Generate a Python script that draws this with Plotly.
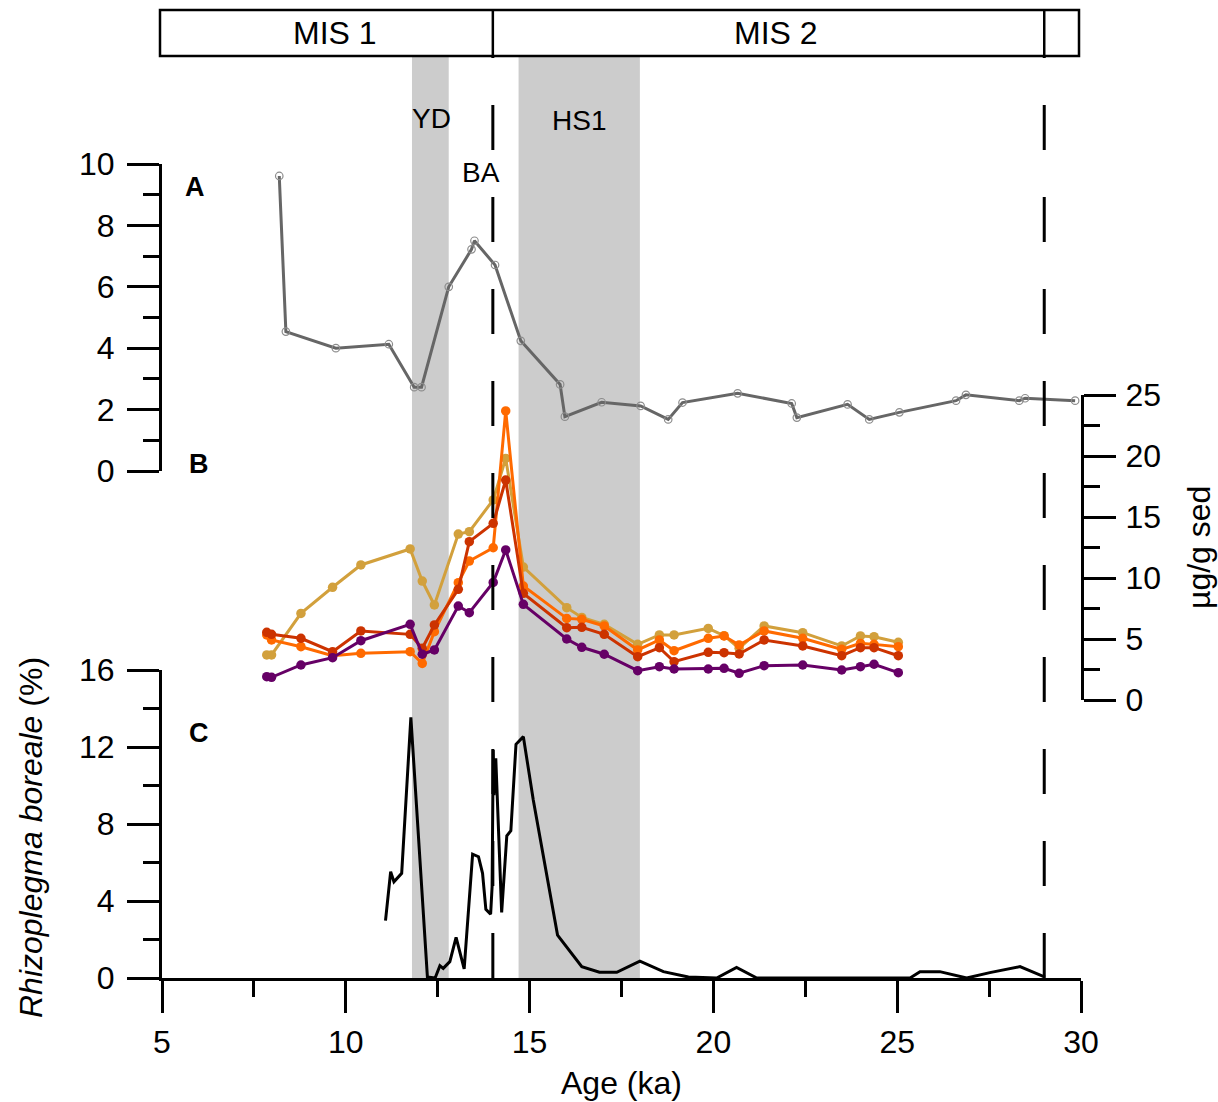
import plotly.graph_objects as go

# ---------------- data ----------------
# Panel A (left axis, 0-10)
age_a = [8.19, 8.37, 9.73, 11.17, 11.86, 12.06, 12.80, 13.42, 13.50, 14.06, 14.76, 15.83, 15.96,
         16.96, 18.02, 18.77, 19.16, 20.66, 22.13, 22.27, 23.65, 24.24, 25.06, 26.60, 26.87,
         28.32, 28.48, 29.84]
val_a = [9.61, 4.54, 4.00, 4.13, 2.73, 2.73, 6.00, 7.22, 7.50, 6.71, 4.24, 2.82, 1.77,
         2.24, 2.12, 1.68, 2.23, 2.53, 2.20, 1.74, 2.17, 1.68, 1.91, 2.29, 2.48,
         2.29, 2.37, 2.29]

# Panel B (right axis, µg/g sed)
age_b = [7.85, 7.98, 8.78, 9.64, 10.41, 11.75, 12.08, 12.41, 13.06, 13.36, 14.01, 14.35, 14.83,
         16.01, 16.42, 17.03, 17.94, 18.53, 18.93, 19.86, 20.29, 20.70, 21.38, 22.43, 23.49,
         24.00, 24.37, 25.03]
gold_b = [3.69, 3.69, 7.10, 9.24, 11.07, 12.38, 9.75, 7.79, 13.60, 13.80, 16.40, 19.80, 10.90,
          7.57, 6.77, 6.20, 4.56, 5.33, 5.33, 5.87, 5.27, 4.24, 6.07, 5.52, 4.43,
          5.25, 5.19, 4.73]
orange_b = [5.33, 4.92, 4.37, 3.63, 3.83, 3.96, 3.00, 5.60, 9.62, 11.39, 12.48, 23.69, 9.34,
            6.69, 6.61, 6.07, 4.10, 4.92, 4.04, 5.06, 5.25, 4.51, 5.66, 5.06, 4.15,
            4.64, 4.56, 4.37]
red_b = [5.55, 5.38, 5.06, 3.96, 5.66, 5.38, 4.24, 6.15, 9.07, 12.98, 14.48, 18.03, 8.74,
         5.93, 5.96, 5.38, 3.55, 4.29, 3.14, 3.91, 3.88, 3.77, 4.92, 4.43, 3.63,
         4.29, 4.29, 3.63]
purple_b = [1.91, 1.86, 2.87, 3.47, 4.86, 6.20, 3.75, 4.10, 7.70, 7.16, 9.64, 12.30, 7.84,
            5.00, 4.32, 3.75, 2.40, 2.73, 2.54, 2.54, 2.60, 2.19, 2.81, 2.87, 2.46,
            2.73, 2.93, 2.24]

# Panel C (Rhizoplegma boreale %)
age_c = [11.08, 11.22, 11.31, 11.52, 11.77, 12.22, 12.43, 12.56, 12.65, 12.83, 13.00, 13.22,
         13.45, 13.61, 13.72, 13.81, 13.94, 13.98, 14.01, 14.03, 14.08, 14.24, 14.38, 14.49,
         14.63, 14.83, 15.10, 15.76, 16.42, 16.90, 17.37, 18.00, 18.64, 19.32, 20.09, 20.63,
         21.18, 25.35, 25.62, 26.16, 26.89, 27.52, 28.34, 29.02]
val_c = [2.98, 5.52, 5.00, 5.44, 13.54, 0.05, 0.00, 0.64, 0.50, 0.85, 2.11, 0.47,
         6.43, 6.30, 5.44, 3.57, 3.31, 4.74, 11.84, 9.50, 11.41, 3.41, 7.39, 7.65,
         12.14, 12.54, 9.25, 2.23, 0.59, 0.30, 0.30, 0.88, 0.33, 0.05, 0.00, 0.55,
         0.00, 0.00, 0.33, 0.33, 0.00, 0.28, 0.59, 0.05]

# intervals / boundaries
yd_span = [11.8, 12.8]
hs1_span = [14.7, 18.0]
mis_bounds = [14.0, 29.0]
mis_labels = ["MIS 1", "MIS 2"]
event_labels = ["YD", "BA", "HS1"]

# ---------------- layout helpers ----------------
W, H = 1218, 1102
FONT = "Liberation Sans, Arial, sans-serif"
FS = 32

def px(x):
    return x / W

def py(y):
    return 1 - y / H

fig = go.Figure()

fig.add_trace(go.Scatter(x=age_a, y=val_a, mode="lines+markers", xaxis="x", yaxis="y",
                         line=dict(color="#666666", width=3),
                         marker=dict(symbol="circle-open", size=7.5, color="#8c8c8c",
                                     line=dict(width=1.2, color="#8c8c8c")),
                         showlegend=False))

for vals, col in [(gold_b, "#D2A03C"), (orange_b, "#FF6A00"), (red_b, "#CC3300"), (purple_b, "#660066")]:
    fig.add_trace(go.Scatter(x=age_b, y=vals, mode="lines+markers", xaxis="x", yaxis="y2",
                             line=dict(color=col, width=3),
                             marker=dict(symbol="circle", size=9.5, color=col),
                             showlegend=False))

fig.add_trace(go.Scatter(x=age_c, y=val_c, mode="lines", xaxis="x", yaxis="y3",
                         line=dict(color="black", width=3), showlegend=False))

axis_common = dict(showline=True, linecolor="black", linewidth=3, ticks="outside",
                   ticklen=32, tickwidth=3, tickcolor="black", showgrid=False, zeroline=False,
                   automargin=False,
                   tickfont=dict(family=FONT, size=FS, color="black"), fixedrange=True)

x_dom = [px(162), px(1081)]
fig.update_layout(
    template="none",
    width=W, height=H, margin=dict(l=0, r=0, t=0, b=0, pad=0), autosize=False,
    paper_bgcolor="white", plot_bgcolor="rgba(0,0,0,0)",
    font=dict(family=FONT, color="black"),
    xaxis=dict(domain=x_dom, range=[5, 30], anchor="y3", dtick=5, tick0=0,
               ticklabelstandoff=2,
               minor=dict(dtick=2.5, ticklen=16, tickwidth=3, ticks="outside", tickcolor="black", showgrid=False),
               **axis_common),
    yaxis=dict(domain=[py(471), py(164)], range=[0, 10], anchor="x", side="left", dtick=2, tick0=0,
               ticklabelstandoff=6,
               minor=dict(dtick=1, ticklen=16, tickwidth=3, ticks="outside", tickcolor="black", showgrid=False),
               **axis_common),
    yaxis2=dict(domain=[py(700), py(395)], range=[0, 25], anchor="x", side="right", dtick=5, tick0=0,
                ticklabelstandoff=3,
                minor=dict(dtick=2.5, ticklen=16, tickwidth=3, ticks="outside", tickcolor="black", showgrid=False),
                **axis_common),
    yaxis3=dict(domain=[py(978), py(670)], range=[0, 16], anchor="x", side="left", dtick=4, tick0=0,
                ticklabelstandoff=6,
                minor=dict(dtick=2, ticklen=16, tickwidth=3, ticks="outside", tickcolor="black", showgrid=False),
                **axis_common),
)

shapes = []
for span in (yd_span, hs1_span):
    shapes.append(dict(type="rect", xref="x", yref="paper", x0=span[0], x1=span[1],
                       y0=py(978), y1=py(56), fillcolor="#CCCCCC", line=dict(width=0), layer="below"))
for b in mis_bounds:
    shapes.append(dict(type="line", xref="x", yref="paper", x0=b, x1=b, y0=py(978), y1=py(56),
                       line=dict(color="black", width=3, dash="45px,47px"), layer="above"))
shapes.append(dict(type="rect", xref="paper", yref="paper", x0=px(160), x1=px(1079), y0=py(56), y1=py(10),
                   line=dict(color="black", width=2.5), fillcolor="white", layer="above"))
for b in mis_bounds:
    shapes.append(dict(type="line", xref="x", yref="paper", x0=b, x1=b, y0=py(56), y1=py(10),
                       line=dict(color="black", width=2.5), layer="above"))
fig.update_layout(shapes=shapes)

ann = []
def text(x, y, s, size=FS, bold=False, angle=0):
    ann.append(dict(x=px(x), y=py(y), xref="paper", yref="paper", text=("<b>%s</b>" % s) if bold else s,
                    showarrow=False, xanchor="center", yanchor="middle", textangle=angle,
                    font=dict(family=FONT, size=size, color="black")))

text(335, 33, mis_labels[0])
text(776, 33, mis_labels[1])
text(431, 118, event_labels[0], size=28)
text(481, 173, event_labels[1], size=28)
text(579, 121, event_labels[2], size=28)
text(195, 187, "A", size=27, bold=True)
text(199, 464, "B", size=27, bold=True)
text(199, 733, "C", size=27, bold=True)
text(621, 1083, "Age (ka)")
text(31, 838, "<i>Rhizoplegma boreale</i> (%)", angle=-90)
text(1199, 548, "µg/g sed", angle=-90)
fig.update_layout(annotations=ann)

fig.write_html("out.html", config={"displayModeBar": False},
               post_script="document.body.style.margin='0px';document.body.style.overflow='hidden';")
